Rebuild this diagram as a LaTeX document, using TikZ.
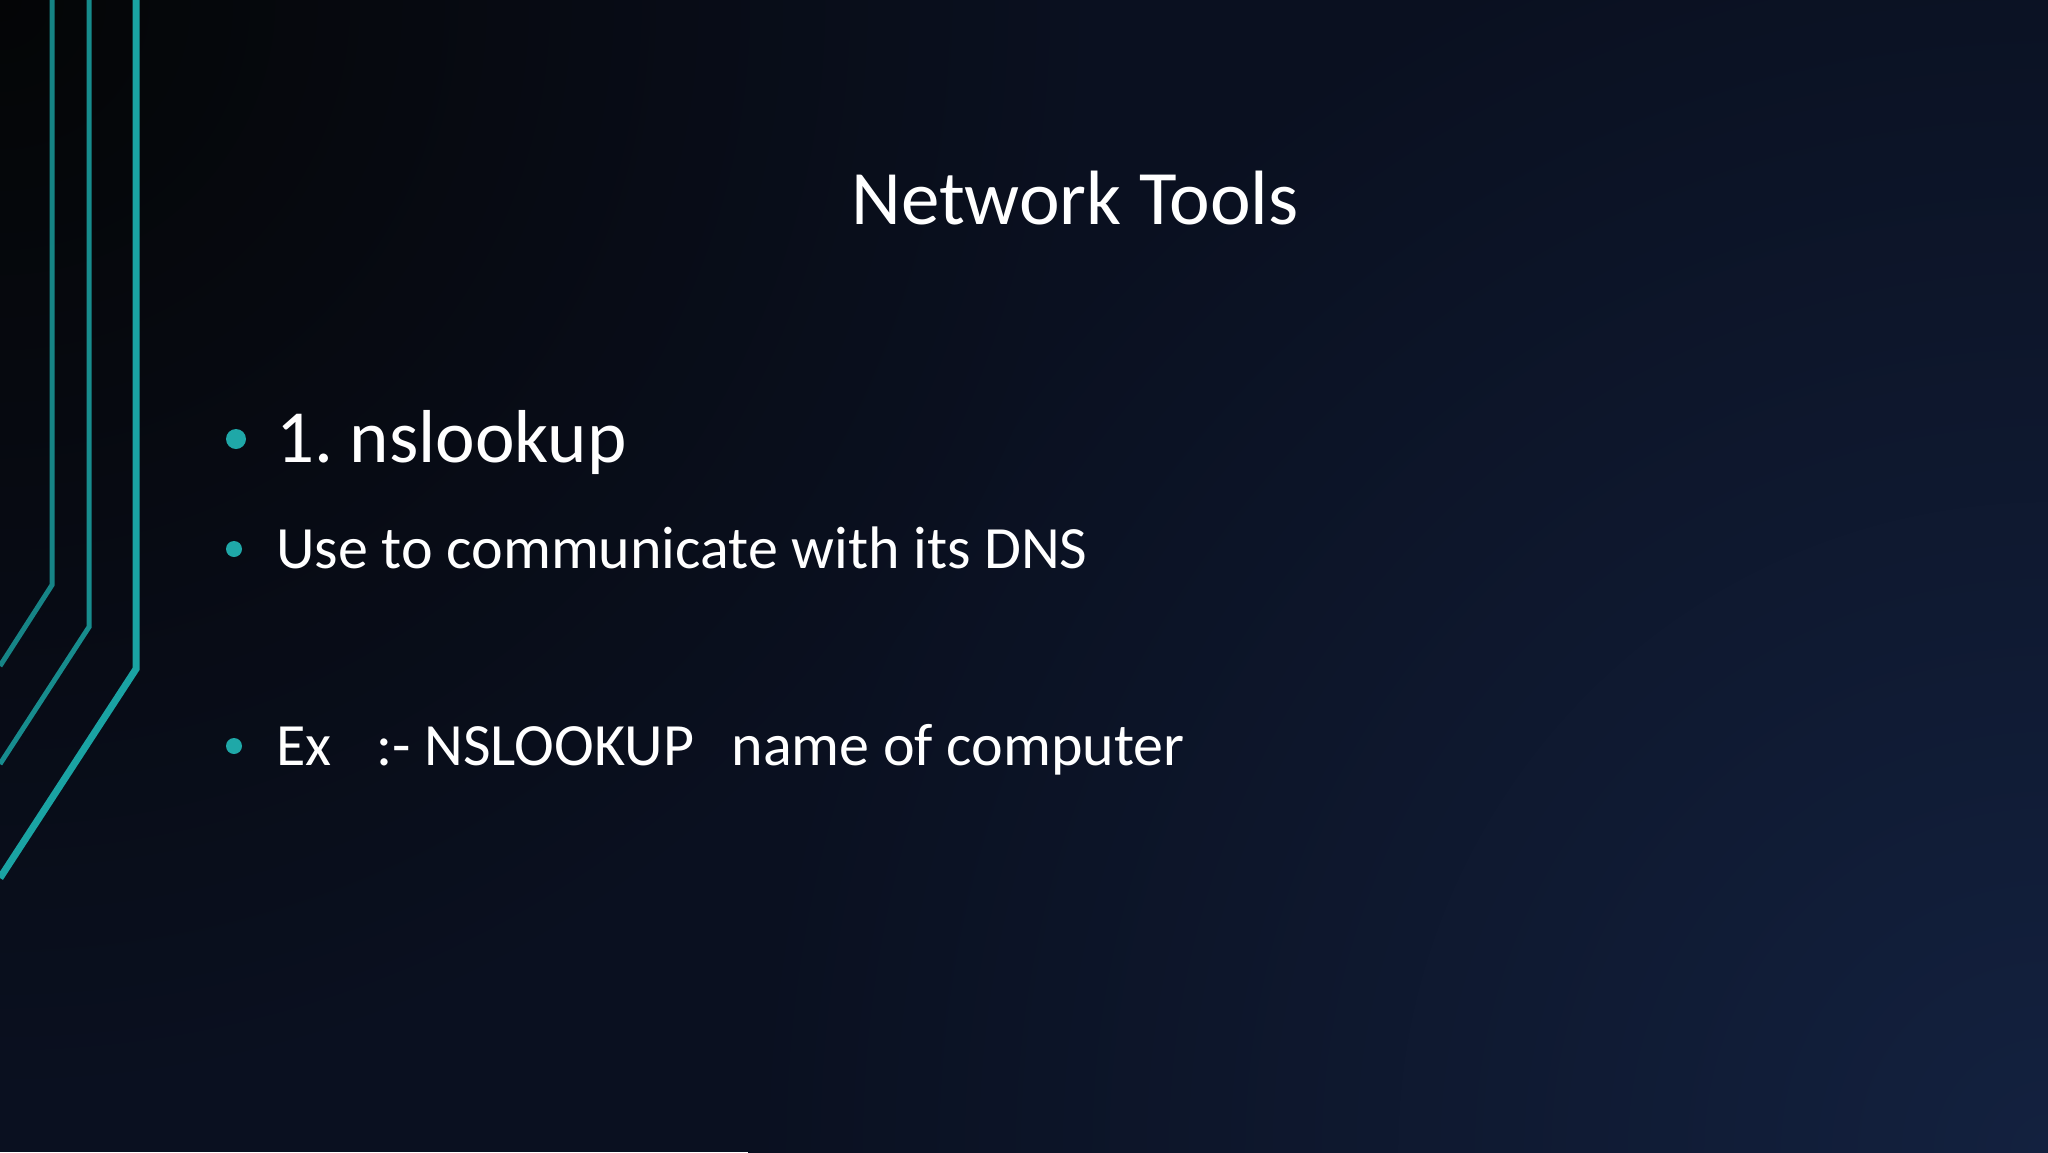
\documentclass[tikz,border=0pt]{standalone}
\usepackage{fontspec}
\setmainfont{Carlito}
\definecolor{bgA}{HTML}{040506}
\definecolor{bgB}{HTML}{0A1020}
\definecolor{bgC}{HTML}{13213F}
\definecolor{teal1}{HTML}{1AA3A3}
\definecolor{bul}{HTML}{1FA8A8}
\begin{document}
\begin{tikzpicture}[x=0.5pt,y=-0.5pt,
  txt/.style={text=white,anchor=base west,inner sep=0pt},
  bulletdot/.style={circle,fill=bul,inner sep=0pt,minimum size=#1},
  deco/.style={draw=teal1,line cap=butt}]
\useasboundingbox (0,0) rectangle (2048,1152);
\clip (0,0) rectangle (2048,1152);
\fill[bgB] (0,0) rectangle (2048,1152);
\shade[inner color=bgC,outer color=bgB] (2048,1152) circle (1300);
\shade[inner color=bgA,outer color=bgB] (0,0) circle (1100);
\draw[deco,line width=2.5pt,opacity=0.8] (52,-5) -- (52,585) -- (0,666);
\draw[deco,line width=2.5pt,opacity=0.85] (89,-5) -- (89,627) -- (0,764);
\draw[deco,line width=3.5pt] (136,-5) -- (136,669) -- (0,878);
\node[text=white,inner sep=0pt,font=\fontsize{38.5}{46}\selectfont] (title) at (1075,198) {Network Tools};
\node[bulletdot=10pt] (b1) at (236,439) {};
\node[txt,font=\fontsize{37.5}{45}\selectfont] (t1) at (276,462) {1.\hspace{0.22em}nslookup};
\node[bulletdot=8pt] (b2) at (234,549) {};
\node[txt,font=\fontsize{30}{36}\selectfont] (t2) at (276,568) {Use to communicate with its DNS};
\node[bulletdot=8pt] (b3) at (234,746) {};
\node[txt,font=\fontsize{30}{36}\selectfont] (t3) at (276,765) {Ex\hspace{0.75em}:- NSLOOKUP\hspace{0.4em} name of computer};
\end{tikzpicture}
\end{document}
